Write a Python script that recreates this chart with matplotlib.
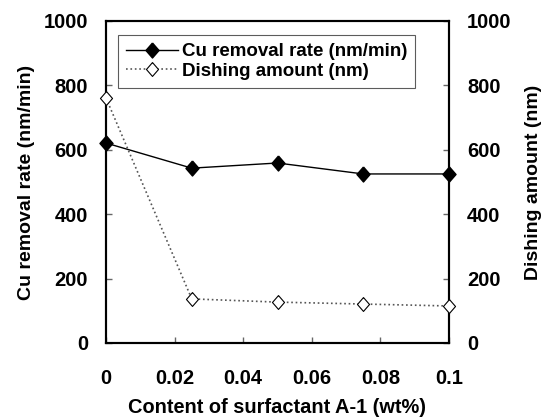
import matplotlib
matplotlib.use('Agg')
import matplotlib.pyplot as plt

plt.rcParams['font.family'] = 'Liberation Sans'
plt.rcParams['font.weight'] = 'bold'

content = [0, 0.025, 0.05, 0.075, 0.1]
cu_rate = [621, 543, 559, 525, 525]
dishing = [761, 137, 127, 121, 115]

# slightly narrow diamond like the original
dmd = [(0, 1), (0.87, 0), (0, -1), (-0.87, 0), (0, 1)]

fig = plt.figure(figsize=(5.45, 4.18), dpi=100)
ax = fig.add_axes([106/545, 1-343/418, (449-106)/545, (343-21)/418])
ax2 = ax.twinx()

l1, = ax.plot(content, cu_rate, '-', color='black', lw=1, marker=dmd, ms=10.8,
              mfc='black', mec='black', label='Cu removal rate (nm/min)', clip_on=False, zorder=5)
l2, = ax2.plot(content, dishing, ':', color='#555555', lw=1.2, marker=dmd, ms=10,
               mfc='white', mec='black', mew=0.8, label='Dishing amount (nm)', clip_on=False, zorder=5)

for a in (ax, ax2):
    a.set_ylim(0, 1000)
    a.set_yticks([0, 200, 400, 600, 800, 1000])
    for s in a.spines.values():
        s.set_linewidth(1.5)
    a.tick_params(direction='in', length=4, width=1, color='#666666', labelsize=14.5, pad=13)
ax.set_xlim(0, 0.1)
ax.set_xticks([0, 0.02, 0.04, 0.06, 0.08, 0.1])
ax.set_xticklabels(['0', '0.02', '0.04', '0.06', '0.08', '0.1'])
ax.tick_params(axis='x', pad=19)

ax.set_xlabel('Content of surfactant A-1 (wt%)', fontsize=14.4, fontweight='bold', labelpad=7)
ax.set_ylabel('Cu removal rate (nm/min)', fontsize=14, fontweight='bold', labelpad=6)
ax2.set_ylabel('Dishing amount (nm)', fontsize=14, fontweight='bold', labelpad=10)

leg = ax.legend(handles=[l1, l2], loc='upper left', bbox_to_anchor=(0.035, 0.955),
                fontsize=13.5, frameon=True, fancybox=False, edgecolor='#333333',
                handlelength=2.8, handletextpad=0.2, borderpad=0.4, labelspacing=0.15,
                borderaxespad=0)
leg.get_frame().set_linewidth(0.8)
for t in leg.get_texts():
    t.set_fontweight('bold')

fig.savefig('out.png', dpi=100)
